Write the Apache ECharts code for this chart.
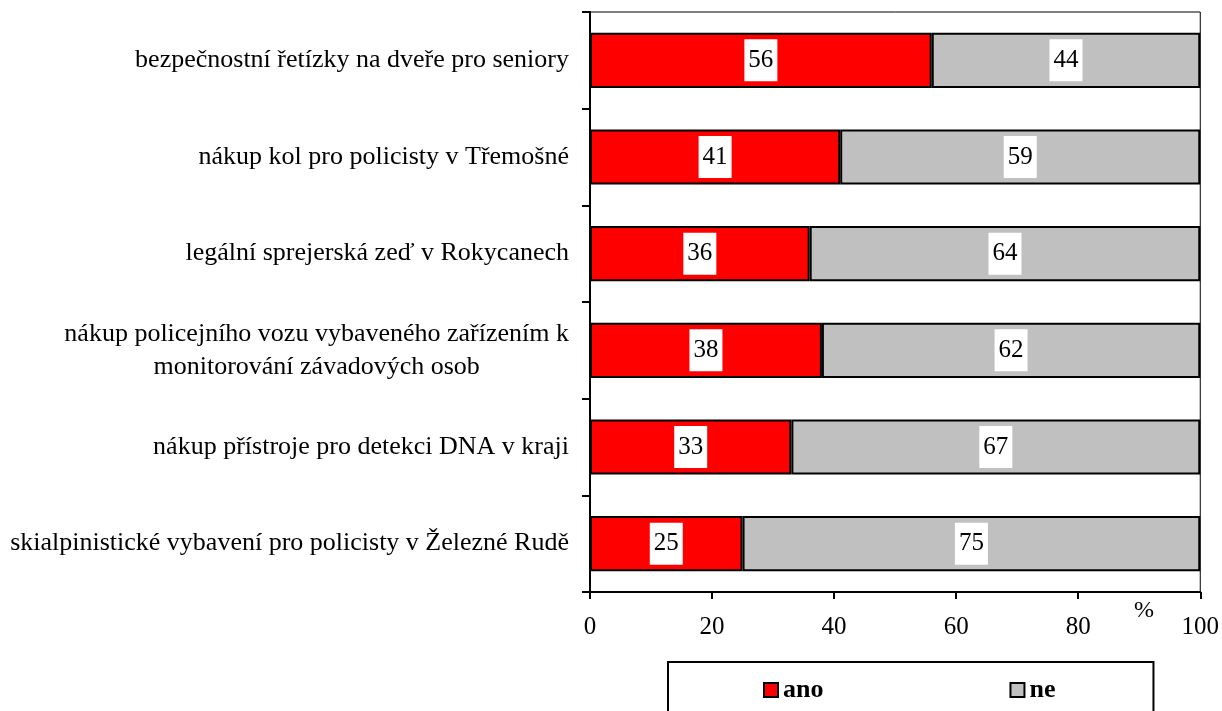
<!DOCTYPE html>
<html>
<head>
<meta charset="utf-8">
<script src="https://cdn.jsdelivr.net/npm/echarts@6/dist/echarts.min.js"></script>
<style>
  html, body { margin: 0; padding: 0; background: #fff; }
  #chart { width: 1222px; height: 711px; }
</style>
</head>
<body>
<div id="chart"></div>
<script>
// Survey items, top to bottom
const categories = [
  'bezpečnostní řetízky na dveře pro seniory',
  'nákup kol pro policisty v Třemošné',
  'legální sprejerská zeď v Rokycanech',
  'nákup policejního vozu vybaveného zařízením k\nmonitorování závadových osob',
  'nákup přístroje pro detekci DNA v kraji',
  'skialpinistické vybavení pro policisty v Železné Rudě'
];
const seriesNames = ['ano', 'ne'];
const anoValues = [56, 41, 36, 38, 33, 25];
const neValues = [44, 59, 64, 62, 67, 75];
const xTicks = [0, 20, 40, 60, 80, 100];
const unitLabel = '%';

const FONT = '"Liberation Serif", "Times New Roman", serif';

const chart = echarts.init(document.getElementById('chart'), null, { renderer: 'canvas' });

const valueLabel = {
  show: true,
  position: 'inside',
  color: '#000',
  fontFamily: FONT,
  fontSize: 25,
  lineHeight: 26,
  backgroundColor: '#fff',
  padding: [8, 4, 8, 4]
};

const option = {
  animation: false,
  backgroundColor: '#fff',
  grid: {
    left: 590, right: 19, top: 12, bottom: 119,
    show: true, borderColor: '#000', borderWidth: 1, backgroundColor: 'transparent'
  },
  legend: {
    data: seriesNames,
    left: 668,
    top: 662,
    padding: [15, 98, 18, 95],
    itemGap: 186,
    itemWidth: 14,
    itemHeight: 14,
    icon: 'rect',
    borderColor: '#000',
    borderWidth: 2,
    textStyle: { fontFamily: FONT, fontSize: 26, fontWeight: 'bold', color: '#000' }
  },
  xAxis: {
    type: 'value',
    min: xTicks[0],
    max: xTicks[xTicks.length - 1],
    interval: xTicks[1] - xTicks[0],
    axisLine: { show: true, lineStyle: { color: '#000', width: 2 } },
    axisTick: { show: true, length: 7, lineStyle: { color: '#000', width: 2 } },
    splitLine: { show: false },
    axisLabel: { margin: 23, color: '#000', fontFamily: FONT, fontSize: 25 }
  },
  yAxis: {
    type: 'category',
    inverse: true,
    data: categories,
    axisLine: { show: true, lineStyle: { color: '#000', width: 2 } },
    axisTick: { show: true, length: 8, lineStyle: { color: '#000', width: 2 } },
    axisLabel: {
      margin: 21,
      color: '#000',
      fontFamily: FONT,
      fontSize: 26,
      lineHeight: 33,
      formatter: v => v.split('\n').map(s => '{c|' + s + '}').join('\n'),
      rich: { c: { align: 'center', fontFamily: FONT, fontSize: 26, lineHeight: 33, color: '#000' } }
    }
  },
  graphic: [{
    type: 'text',
    left: 1134,
    top: 599,
    style: { text: unitLabel, fill: '#000', font: '24px ' + FONT }
  }],
  series: [
    {
      name: seriesNames[0],
      type: 'bar',
      stack: 'total',
      data: anoValues,
      barCategoryGap: '43%',
      itemStyle: { color: '#ff0000', borderColor: '#000', borderWidth: 2 },
      label: valueLabel
    },
    {
      name: seriesNames[1],
      type: 'bar',
      stack: 'total',
      data: neValues,
      barCategoryGap: '43%',
      itemStyle: { color: '#c0c0c0', borderColor: '#000', borderWidth: 2 },
      label: valueLabel
    }
  ]
};

chart.setOption(option);
</script>
</body>
</html>
